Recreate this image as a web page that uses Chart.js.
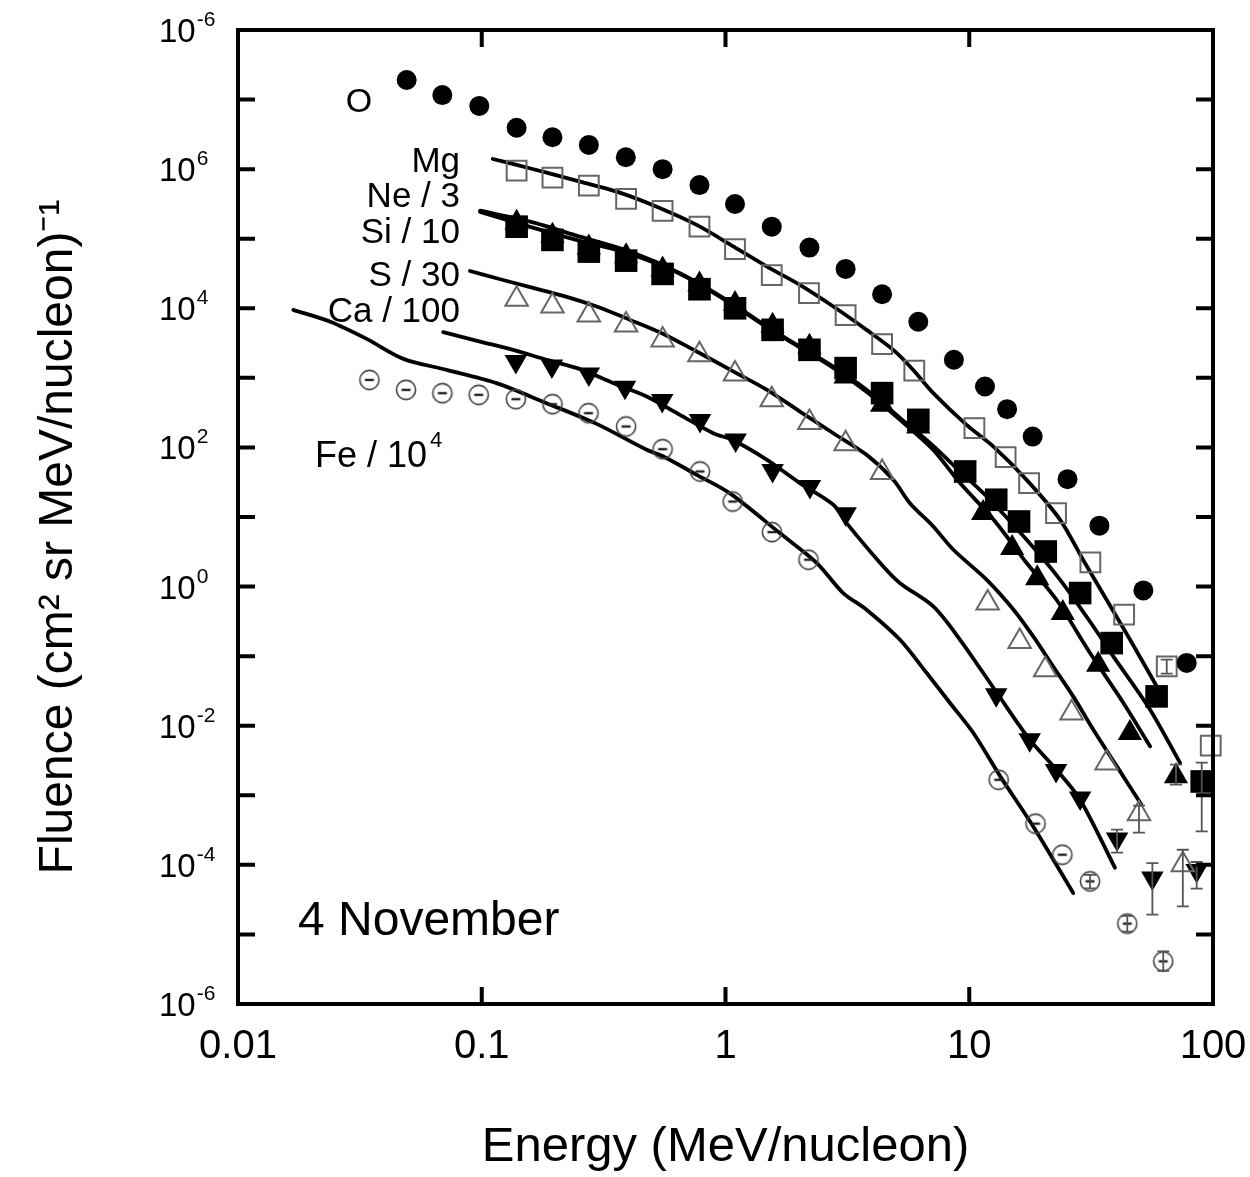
<!DOCTYPE html>
<html><head><meta charset="utf-8">
<script src="https://cdn.jsdelivr.net/npm/chart.js@4.4.1/dist/chart.umd.min.js"></script>
<style>html,body{margin:0;padding:0;background:#fff;}canvas{display:block;}</style>
</head><body>
<canvas id="c" width="1250" height="1177"></canvas>
<script>
// ---------- data ----------
const xTickValues = [0.01, 0.1, 1, 10, 100];
const xTickLabels = ['0.01', '0.1', '1', '10', '100'];
const yTickValues = [1e-6, 1e-5, 1e-4, 1e-3, 1e-2, 1e-1, 1, 1e1, 1e2, 1e3, 1e4, 1e5, 1e6, 1e7, 1e8];
const yLabelValues = [1e8, 1e6, 1e4, 1e2, 1, 1e-2, 1e-4, 1e-6];
const yLabelExps = ['-6', '6', '4', '2', '0', '-2', '-4', '-6'];

const energyO = [0.0492, 0.0689, 0.0977, 0.139, 0.195, 0.275, 0.39, 0.552, 0.782, 1.094, 1.548, 2.21, 3.11, 4.39, 6.18, 8.65, 11.6, 14.3, 18.2, 25.3, 34.2, 51.8, 78];
const fluenceO = [1.91e7, 1.16e7, 8.1e6, 3.94e6, 2.87e6, 2.23e6, 1.48e6, 1.0e6, 5.9e5, 3.16e5, 1.49e5, 7.45e4, 3.68e4, 1.59e4, 6.4e3, 1.82e3, 750, 355, 143, 35, 7.5, 0.88, 0.080];

const energyMg = [0.139, 0.195, 0.275, 0.391, 0.552, 0.782, 1.094, 1.548, 2.20, 3.11, 4.39, 5.95, 10.5, 14.1, 17.6, 22.7, 31.4, 43.2, 64.6, 97.9];
const fluenceMg = [9.5e5, 7.55e5, 5.8e5, 3.73e5, 2.51e5, 1.49e5, 7.1e4, 3.0e4, 1.65e4, 8.0e3, 3.05e3, 1.27e3, 189, 72.6, 30.7, 11.4, 2.22, 0.394, 0.0711, 0.00516];
const energyMgFit = [0.111, 0.139, 0.1845, 0.253, 0.358, 0.522, 0.762, 1.08, 1.48, 2.02, 2.77, 3.79, 4.88, 5.89, 7.12, 9.75, 12.6, 17.2, 23.6, 29.3, 36.6, 45.7, 58.9];
const fluenceMgFit = [1.40e6, 1.15e6, 8.91e5, 6.61e5, 4.75e5, 2.89e5, 1.58e5, 7.71e4, 3.97e4, 2.17e4, 1.06e4, 4.90e3, 2.52e3, 1.30e3, 603, 211, 102, 34.2, 9.12, 2.43, 0.646, 0.172, 0.0363];

const energyNe = [0.139, 0.195, 0.275, 0.391, 0.552, 0.782, 1.094, 1.56, 2.21, 3.11, 4.39, 6.18, 9.62, 12.9, 16.0, 20.6, 28.5, 38.4, 58.7, 89.9];
const fluenceNe = [1.49e5, 9.62e4, 6.53e4, 4.84e4, 3.12e4, 1.88e4, 1.0e4, 4.90e3, 2.53e3, 1.38e3, 603, 249, 45.1, 17.7, 8.61, 3.19, 0.807, 0.154, 0.0264, 1.58e-3];
const energyNeFit = [0.0984, 0.158, 0.253, 0.406, 0.650, 1.04, 1.48, 2.02, 2.77, 3.79, 5.20, 6.90, 9.17, 11.8, 17.2, 23.6, 32.3, 39.0, 55.2, 73.3];
const fluenceNeFit = [2.53e5, 1.76e5, 1.07e5, 6.53e4, 3.19e4, 1.24e4, 5.46e3, 2.82e3, 1.45e3, 673, 266, 116, 45.1, 19.7, 4.70, 1.25, 0.267, 0.0991, 0.0170, 2.91e-3];

const energySi = [0.139, 0.195, 0.275, 0.391, 0.552, 0.782, 1.094, 1.56, 2.21, 3.11, 4.39, 6.18, 11.4, 15.0, 19.0, 24.2, 33.8, 45.6, 70.5];
const fluenceSi = [1.7e5, 1.1e5, 7.5e4, 5.6e4, 3.6e4, 2.2e4, 1.15e4, 5.6e3, 2.8e3, 1045, 409, 200, 11.4, 3.57, 1.32, 0.416, 0.0752, 7.85e-3, 1.87e-3];
const energySiFit = [0.0984, 0.158, 0.253, 0.406, 0.650, 1.04, 1.48, 2.02, 2.77, 3.79, 5.20, 7.12, 9.17, 12.6, 17.2, 22.8, 31.3, 42.9, 55.2];
const fluenceSiFit = [2.43e5, 1.48e5, 9.3e4, 6.05e4, 3.12e4, 1.20e4, 5.32e3, 2.74e3, 1.39e3, 630, 249, 92.4, 30.7, 9.12, 2.18, 0.646, 0.111, 0.0212, 5.05e-3];

const energyS = [0.139, 0.195, 0.275, 0.391, 0.552, 0.782, 1.094, 1.548, 2.21, 3.11, 4.39, 11.9, 16.1, 20.5, 26.3, 36.6, 49.7, 75.2];
const fluenceS = [1.35e4, 1.08e4, 8.0e3, 5.77e3, 3.51e3, 2.14e3, 1.14e3, 483, 228, 113, 43.5, 0.579, 0.163, 0.0638, 0.0152, 2.91e-3, 5.45e-4, 1.0e-4];
const energySFit = [0.0895, 0.115, 0.158, 0.216, 0.296, 0.406, 0.556, 0.762, 1.08, 1.48, 2.02, 2.77, 3.79, 4.88, 5.71, 7.12, 8.61, 11.8, 15.2, 18.3, 22.1, 26.7, 32.3, 40.4, 50.9];
const fluenceSFit = [3.44e4, 2.70e4, 2.01e4, 1.51e4, 1.06e4, 6.81e3, 4.28e3, 2.39e3, 1.23e3, 673, 328, 160, 78.3, 34.2, 15.8, 7.31, 3.38, 1.25, 0.465, 0.192, 0.0711, 0.0264, 8.77e-3, 2.58e-3, 7.3e-4];

const energyCa = [0.138, 0.194, 0.275, 0.387, 0.55, 0.786, 1.10, 1.56, 2.22, 3.11, 12.9, 17.7, 22.7, 28.5, 40.4, 56.4, 85.7];
const fluenceCa = [1714, 1486, 1140, 735, 472, 243, 128, 46.6, 27.4, 11.1, 0.0279, 6.29e-3, 2.28e-3, 9.15e-4, 2.36e-4, 6.48e-5, 8.3e-5];
const energyCaFit = [0.0695, 0.0984, 0.1346, 0.1845, 0.253, 0.347, 0.475, 0.650, 0.891, 1.07, 1.48, 2.02, 2.77, 3.14, 4.44, 5.20, 7.12, 9.17, 13.0, 17.7, 22.8, 28.5, 39.6];
const fluenceCaFit = [4540, 3325, 2525, 1814, 1334, 839, 539, 294, 160, 128, 66.4, 30.7, 15.0, 8.17, 1.94, 1.12, 0.518, 0.172, 0.0295, 6.3e-3, 2.33e-3, 8.65e-4, 9.1e-5];

const energyFe = [0.0346, 0.0489, 0.0689, 0.0972, 0.138, 0.195, 0.274, 0.391, 0.552, 0.786, 1.07, 1.55, 2.19, 13.2, 18.7, 24.1, 31.3, 44.5, 62.5];
const fluenceFe = [935, 673, 603, 570, 494, 419, 311, 200, 94.5, 45.1, 16.7, 6.07, 2.43, 1.67e-3, 3.91e-4, 1.40e-4, 5.8e-5, 1.43e-5, 4.1e-6];
const energyFeFit = [0.01686, 0.0238, 0.0337, 0.0477, 0.0718, 0.115, 0.1845, 0.296, 0.475, 0.556, 0.762, 1.04, 1.67, 2.37, 3.04, 3.79, 5.20, 6.69, 8.34, 10.4, 13.4, 18.3, 26.7];
const fluenceFeFit = [9480, 6440, 3630, 1875, 1303, 839, 433, 218, 92.4, 74, 40.4, 22.0, 5.87, 2.18, 0.807, 0.465, 0.172, 0.0572, 0.0212, 7.85e-3, 1.87e-3, 3.57e-4, 3.94e-5];

// error bars: energy, low, high
const errEnergy = [89.9, 70.5, 75.2, 49.7, 56.4, 40.4, 85.7, 62.5, 44.5, 31.3, 64.6];
const errLow    = [3.03e-4, 1.42e-3, 2.53e-5, 2.9e-4, 1.92e-5, 1.5e-4, 4.55e-5, 3.0e-6, 1.1e-5, 4.6e-5, 0.056];
const errHigh   = [2.94e-3, 2.75e-3, 1.65e-4, 7.1e-4, 1.06e-4, 3.2e-4, 1.1e-4, 5.7e-6, 1.85e-5, 7.2e-5, 0.089];

// ---------- text ----------
const xTitle = 'Energy (MeV/nucleon)';
const yTitle = 'Fluence (cm\u00B2 sr MeV/nucleon)\u207B\u00B9   ';
const annotations = [
  {t: 'O', sup: '', x: 359, y: 112, align: 'center', size: 34},
  {t: 'Mg', sup: '', x: 460, y: 172, align: 'right', size: 35},
  {t: 'Ne / 3', sup: '', x: 460, y: 207, align: 'right', size: 35},
  {t: 'Si / 10', sup: '', x: 460, y: 243, align: 'right', size: 35},
  {t: 'S / 30', sup: '', x: 460, y: 286, align: 'right', size: 35},
  {t: 'Ca / 100', sup: '', x: 460, y: 322, align: 'right', size: 35},
  {t: 'Fe / 10', sup: '4', x: 315, y: 467, align: 'left', size: 36},
  {t: '4 November', sup: '', x: 298, y: 935, align: 'left', size: 48}
];

// ---------- build ----------
const FONT = "'Liberation Sans', Arial, Helvetica, sans-serif";
const pts = (xs, ys) => xs.map((x, i) => ({x: x, y: ys[i]}));

function feMarker() {
  const c = document.createElement('canvas');
  c.width = 26; c.height = 26;
  const g = c.getContext('2d');
  g.strokeStyle = '#444'; g.lineWidth = 1.6;
  g.beginPath(); g.arc(13, 13, 9.6, 0, Math.PI * 2); g.stroke();
  g.strokeStyle = '#222'; g.lineWidth = 2.4;
  g.beginPath(); g.moveTo(8.5, 13); g.lineTo(17.5, 13); g.stroke();
  return c;
}

function pointSet(label, xs, ys, o) {
  return Object.assign({
    label: label, data: pts(xs, ys), showLine: false, clip: false,
    pointRotation: 0, pointBorderWidth: 0
  }, o);
}
function lineSet(label, xs, ys) {
  return {
    label: label, data: pts(xs, ys), showLine: true, pointRadius: 0,
    borderColor: '#000', borderWidth: 3.8, tension: 0.3, fill: false,
    borderCapStyle: 'round', borderJoinStyle: 'round'
  };
}

const datasets = [
  pointSet('O', energyO, fluenceO, {pointStyle: 'circle', pointRadius: 10, pointBackgroundColor: '#000', pointBorderColor: '#000'}),
  pointSet('Ne / 3', energyNe, fluenceNe, {pointStyle: 'rect', pointRadius: 16, pointBackgroundColor: '#000', pointBorderColor: '#000'}),
  pointSet('Si / 10', energySi, fluenceSi, {pointStyle: 'triangle', pointRadius: 14, pointBackgroundColor: '#000', pointBorderColor: '#000'}),
  pointSet('Mg', energyMg, fluenceMg, {pointStyle: 'rect', pointRadius: 14, pointBackgroundColor: 'rgba(0,0,0,0)', pointBorderColor: '#666', pointBorderWidth: 2}),
  pointSet('S / 30', energyS, fluenceS, {pointStyle: 'triangle', pointRadius: 13, pointBackgroundColor: 'rgba(0,0,0,0)', pointBorderColor: '#666', pointBorderWidth: 2}),
  pointSet('Ca / 100', energyCa, fluenceCa, {pointStyle: 'triangle', pointRotation: 180, pointRadius: 13, pointBackgroundColor: '#000', pointBorderColor: '#000'}),
  pointSet('Fe / 10^4', energyFe, fluenceFe, {pointStyle: feMarker(), pointRadius: 10}),
  lineSet('Mg fit', energyMgFit, fluenceMgFit),
  lineSet('Ne fit', energyNeFit, fluenceNeFit),
  lineSet('Si fit', energySiFit, fluenceSiFit),
  lineSet('S fit', energySFit, fluenceSFit),
  lineSet('Ca fit', energyCaFit, fluenceCaFit),
  lineSet('Fe fit', energyFeFit, fluenceFeFit)
];

const framePlugin = {
  id: 'frame',
  afterDatasetsDraw(chart) {
    const {ctx, chartArea: a, scales: {x, y}} = chart;
    ctx.save();
    ctx.strokeStyle = '#555'; ctx.lineWidth = 1.8;
    ctx.beginPath();
    errEnergy.forEach((e, i) => {
      const px = x.getPixelForValue(e), p1 = y.getPixelForValue(errLow[i]), p2 = y.getPixelForValue(errHigh[i]);
      ctx.moveTo(px, p1); ctx.lineTo(px, p2);
      ctx.moveTo(px - 6, p1); ctx.lineTo(px + 6, p1);
      ctx.moveTo(px - 6, p2); ctx.lineTo(px + 6, p2);
    });
    ctx.stroke();
    ctx.strokeStyle = '#000'; ctx.lineWidth = 4;
    ctx.strokeRect(a.left, a.top, a.right - a.left, a.bottom - a.top);
    const TL = 17;
    ctx.beginPath();
    yTickValues.forEach(v => {
      const py = y.getPixelForValue(v);
      ctx.moveTo(a.left, py); ctx.lineTo(a.left + TL, py);
      ctx.moveTo(a.right, py); ctx.lineTo(a.right - TL, py);
    });
    xTickValues.forEach(v => {
      const px = x.getPixelForValue(v);
      ctx.moveTo(px, a.bottom); ctx.lineTo(px, a.bottom - TL);
      ctx.moveTo(px, a.top); ctx.lineTo(px, a.top + TL);
    });
    ctx.stroke();
    ctx.restore();
  },
  afterDraw(chart) {
    const {ctx, scales: {y}} = chart;
    ctx.save();
    ctx.fillStyle = '#000';
    ctx.textBaseline = 'alphabetic';
    yLabelValues.forEach((v, i) => {
      const py = y.getPixelForValue(v);
      ctx.font = '33px ' + FONT; ctx.textAlign = 'left';
      ctx.fillText('10', 159, py + 12);
      const w = ctx.measureText('10').width;
      ctx.font = '21px ' + FONT;
      ctx.fillText(yLabelExps[i], 159 + w + 1, py - 4);
    });
    annotations.forEach(an => {
      ctx.font = an.size + 'px ' + FONT;
      ctx.textAlign = an.align;
      ctx.fillText(an.t, an.x, an.y);
      if (an.sup) {
        const w = ctx.measureText(an.t).width;
        const sx = an.align === 'left' ? an.x + w + 3 : an.x + 3;
        ctx.font = Math.round(an.size * 0.62) + 'px ' + FONT;
        ctx.textAlign = 'left';
        ctx.fillText(an.sup, sx, an.y - an.size * 0.55);
      }
    });
    ctx.restore();
  }
};

new Chart(document.getElementById('c'), {
  type: 'scatter',
  data: {datasets: datasets},
  options: {
    responsive: false, animation: false, devicePixelRatio: 1, events: [],
    layout: {padding: {top: 30, right: 37, left: 0, bottom: 0}},
    plugins: {legend: {display: false}, tooltip: {enabled: false}},
    scales: {
      x: {
        type: 'logarithmic', position: 'bottom', min: 0.01, max: 100,
        afterBuildTicks: s => { s.ticks = xTickValues.map(v => ({value: v})); },
        afterFit: s => { s.height = 173; s.paddingLeft = 0; s.paddingRight = 0; },
        grid: {display: false, drawTicks: false}, border: {display: false},
        ticks: {
          color: '#000', font: {family: FONT, size: 40}, padding: 19, maxRotation: 0, autoSkip: false,
          callback: (v, i) => xTickLabels[i]
        },
        title: {display: true, text: xTitle, color: '#000', font: {family: FONT, size: 49}, padding: {top: 0, bottom: 0}}
      },
      y: {
        type: 'logarithmic', position: 'left', min: 1e-6, max: 1e8,
        afterBuildTicks: s => { s.ticks = yTickValues.map(v => ({value: v})); },
        afterFit: s => { s.width = 238; s.paddingTop = 0; s.paddingBottom = 0; },
        grid: {display: false, drawTicks: false}, border: {display: false},
        ticks: {display: false},
        title: {display: true, text: yTitle, color: '#000', font: {family: FONT, size: 48}, padding: {top: 30, bottom: 0}}
      }
    }
  },
  plugins: [framePlugin]
});
</script>
</body></html>
